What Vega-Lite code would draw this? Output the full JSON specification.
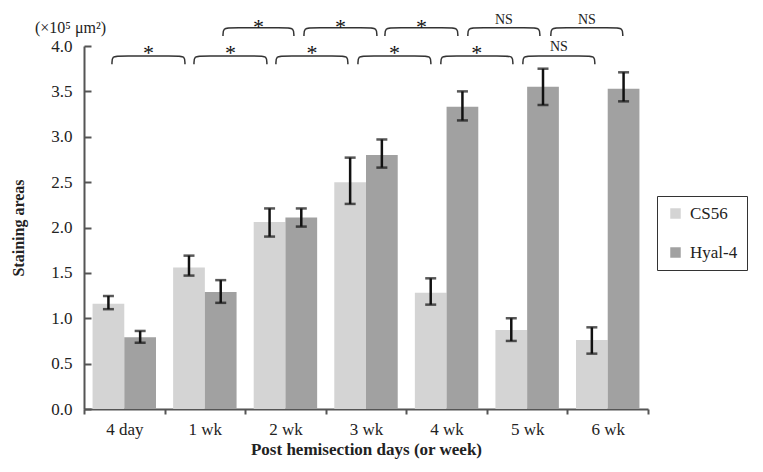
{
  "$schema": "https://vega.github.io/schema/vega-lite/v6.json",
  "width": 564,
  "height": 363,
  "autosize": "none",
  "padding": {"left": 84, "top": 46, "right": 115, "bottom": 63},
  "background": "white",
  "title": {"text": "(×10⁵ μm²)", "anchor": "start", "frame": "group", "dx": -49, "offset": -23, "fontSize": 16, "fontWeight": "normal", "font": "Liberation Serif", "color": "#222"},
  "config": {"view": {"stroke": null}, "font": "Liberation Serif"},
  "datasets": {
    "bars": [
      {"time": "4 day", "group": "CS56", "value": 1.16, "lo": 1.10, "hi": 1.245},
      {"time": "4 day", "group": "Hyal-4", "value": 0.79, "lo": 0.73, "hi": 0.86},
      {"time": "1 wk", "group": "CS56", "value": 1.56, "lo": 1.47, "hi": 1.69},
      {"time": "1 wk", "group": "Hyal-4", "value": 1.29, "lo": 1.17, "hi": 1.42},
      {"time": "2 wk", "group": "CS56", "value": 2.06, "lo": 1.90, "hi": 2.21},
      {"time": "2 wk", "group": "Hyal-4", "value": 2.11, "lo": 2.01, "hi": 2.21},
      {"time": "3 wk", "group": "CS56", "value": 2.50, "lo": 2.26, "hi": 2.77},
      {"time": "3 wk", "group": "Hyal-4", "value": 2.80, "lo": 2.66, "hi": 2.97},
      {"time": "4 wk", "group": "CS56", "value": 1.28, "lo": 1.15, "hi": 1.44},
      {"time": "4 wk", "group": "Hyal-4", "value": 3.33, "lo": 3.18, "hi": 3.50},
      {"time": "5 wk", "group": "CS56", "value": 0.87, "lo": 0.75, "hi": 1.00},
      {"time": "5 wk", "group": "Hyal-4", "value": 3.55, "lo": 3.35, "hi": 3.75},
      {"time": "6 wk", "group": "CS56", "value": 0.76, "lo": 0.61, "hi": 0.90},
      {"time": "6 wk", "group": "Hyal-4", "value": 3.53, "lo": 3.39, "hi": 3.71}
    ],
    "brackets": [
      {"id": "L0", "k": 0, "px": 0.347, "py": 3.80}, {"id": "L0", "k": 1, "px": 0.347, "py": 3.89}, {"id": "L0", "k": 2, "px": 0.447, "py": 3.89}, {"id": "L0", "k": 3, "px": 1.153, "py": 3.89}, {"id": "L0", "k": 4, "px": 1.253, "py": 3.89}, {"id": "L0", "k": 5, "px": 1.253, "py": 3.80},
      {"id": "L1", "k": 0, "px": 1.365, "py": 3.80}, {"id": "L1", "k": 1, "px": 1.365, "py": 3.89}, {"id": "L1", "k": 2, "px": 1.465, "py": 3.89}, {"id": "L1", "k": 3, "px": 2.170, "py": 3.89}, {"id": "L1", "k": 4, "px": 2.270, "py": 3.89}, {"id": "L1", "k": 5, "px": 2.270, "py": 3.80},
      {"id": "L2", "k": 0, "px": 2.382, "py": 3.80}, {"id": "L2", "k": 1, "px": 2.382, "py": 3.89}, {"id": "L2", "k": 2, "px": 2.482, "py": 3.89}, {"id": "L2", "k": 3, "px": 3.175, "py": 3.89}, {"id": "L2", "k": 4, "px": 3.275, "py": 3.89}, {"id": "L2", "k": 5, "px": 3.275, "py": 3.80},
      {"id": "L3", "k": 0, "px": 3.400, "py": 3.80}, {"id": "L3", "k": 1, "px": 3.400, "py": 3.89}, {"id": "L3", "k": 2, "px": 3.500, "py": 3.89}, {"id": "L3", "k": 3, "px": 4.205, "py": 3.89}, {"id": "L3", "k": 4, "px": 4.305, "py": 3.89}, {"id": "L3", "k": 5, "px": 4.305, "py": 3.80},
      {"id": "L4", "k": 0, "px": 4.429, "py": 3.80}, {"id": "L4", "k": 1, "px": 4.429, "py": 3.89}, {"id": "L4", "k": 2, "px": 4.529, "py": 3.89}, {"id": "L4", "k": 3, "px": 5.223, "py": 3.89}, {"id": "L4", "k": 4, "px": 5.323, "py": 3.89}, {"id": "L4", "k": 5, "px": 5.323, "py": 3.80},
      {"id": "L5", "k": 0, "px": 5.447, "py": 3.80}, {"id": "L5", "k": 1, "px": 5.447, "py": 3.89}, {"id": "L5", "k": 2, "px": 5.547, "py": 3.89}, {"id": "L5", "k": 3, "px": 6.240, "py": 3.89}, {"id": "L5", "k": 4, "px": 6.340, "py": 3.89}, {"id": "L5", "k": 5, "px": 6.340, "py": 3.80},
      {"id": "U1", "k": 0, "px": 1.725, "py": 4.11}, {"id": "U1", "k": 1, "px": 1.725, "py": 4.20}, {"id": "U1", "k": 2, "px": 1.825, "py": 4.20}, {"id": "U1", "k": 3, "px": 2.505, "py": 4.20}, {"id": "U1", "k": 4, "px": 2.605, "py": 4.20}, {"id": "U1", "k": 5, "px": 2.605, "py": 4.11},
      {"id": "U2", "k": 0, "px": 2.730, "py": 4.11}, {"id": "U2", "k": 1, "px": 2.730, "py": 4.20}, {"id": "U2", "k": 2, "px": 2.830, "py": 4.20}, {"id": "U2", "k": 3, "px": 3.535, "py": 4.20}, {"id": "U2", "k": 4, "px": 3.635, "py": 4.20}, {"id": "U2", "k": 5, "px": 3.635, "py": 4.11},
      {"id": "U3", "k": 0, "px": 3.735, "py": 4.11}, {"id": "U3", "k": 1, "px": 3.735, "py": 4.20}, {"id": "U3", "k": 2, "px": 3.835, "py": 4.20}, {"id": "U3", "k": 3, "px": 4.540, "py": 4.20}, {"id": "U3", "k": 4, "px": 4.640, "py": 4.20}, {"id": "U3", "k": 5, "px": 4.640, "py": 4.11},
      {"id": "U4", "k": 0, "px": 4.764, "py": 4.11}, {"id": "U4", "k": 1, "px": 4.764, "py": 4.20}, {"id": "U4", "k": 2, "px": 4.864, "py": 4.20}, {"id": "U4", "k": 3, "px": 5.558, "py": 4.20}, {"id": "U4", "k": 4, "px": 5.658, "py": 4.20}, {"id": "U4", "k": 5, "px": 5.658, "py": 4.11},
      {"id": "U5", "k": 0, "px": 5.794, "py": 4.11}, {"id": "U5", "k": 1, "px": 5.794, "py": 4.20}, {"id": "U5", "k": 2, "px": 5.894, "py": 4.20}, {"id": "U5", "k": 3, "px": 6.587, "py": 4.20}, {"id": "U5", "k": 4, "px": 6.687, "py": 4.20}, {"id": "U5", "k": 5, "px": 6.687, "py": 4.11}
    ],
    "labels": [
      {"px": 0.800, "py": 3.99, "t": "*"},
      {"px": 1.818, "py": 3.99, "t": "*"},
      {"px": 2.829, "py": 3.99, "t": "*"},
      {"px": 3.853, "py": 3.99, "t": "*"},
      {"px": 4.876, "py": 3.99, "t": "*"},
      {"px": 5.894, "py": 3.99, "t": "NS"},
      {"px": 2.165, "py": 4.275, "t": "*"},
      {"px": 3.183, "py": 4.275, "t": "*"},
      {"px": 4.188, "py": 4.275, "t": "*"},
      {"px": 5.211, "py": 4.285, "t": "NS"},
      {"px": 6.241, "py": 4.285, "t": "NS"}
    ]
  },
  "layer": [
    {
      "data": {"name": "bars"},
      "layer": [
        {
          "mark": {"type": "bar"},
          "encoding": {
            "x": {"field": "time", "type": "nominal", "sort": ["4 day", "1 wk", "2 wk", "3 wk", "4 wk", "5 wk", "6 wk"], "scale": {"paddingInner": 0, "paddingOuter": 0}, "title": "Post hemisection days (or week)",
              "axis": {"tickBand": "extent", "tickSize": 5, "labelPadding": 7, "labelAngle": 0, "labelFontSize": 17, "labelFont": "Liberation Serif", "labelColor": "#222", "titleFontSize": 17, "titleFont": "Liberation Serif", "titleFontWeight": "bold", "titleColor": "#222", "titlePadding": 4, "domainColor": "#555", "domainWidth": 2, "tickColor": "#555", "tickWidth": 2, "grid": false}},
            "xOffset": {"field": "group", "type": "nominal", "scale": {"paddingInner": 0, "paddingOuter": 0.27}},
            "y": {"field": "value", "type": "quantitative", "scale": {"domain": [0, 4], "nice": false}, "title": "Staining areas",
              "axis": {"values": [0, 0.5, 1, 1.5, 2, 2.5, 3, 3.5, 4], "format": ".1f", "tickSize": -7, "labelPadding": 19, "labelFontSize": 17, "labelFont": "Liberation Serif", "labelColor": "#222", "titleFontSize": 16, "titleFont": "Liberation Serif", "titleFontWeight": "bold", "titleColor": "#222", "titlePadding": 24, "domainColor": "#555", "domainWidth": 2, "tickColor": "#555", "tickWidth": 2, "grid": false}},
            "color": {"field": "group", "type": "nominal", "scale": {"domain": ["CS56", "Hyal-4"], "range": ["#d4d4d4", "#a1a1a1"]},
              "legend": {"title": null, "orient": "none", "legendX": 573, "legendY": 150, "strokeColor": "#333", "padding": 9, "symbolType": "square", "symbolSize": 110, "symbolStrokeWidth": 0, "symbolOffset": 1, "labelOffset": 6, "labelFontSize": 17, "labelFont": "Liberation Serif", "labelColor": "#222", "rowPadding": 21, "labelExpr": "datum.label + '\u00a0\u00a0\u00a0\u00a0'"}}
          }
        },
        {
          "mark": {"type": "rule", "strokeWidth": 2.5, "color": "#111"},
          "encoding": {
            "x": {"field": "time", "type": "nominal", "sort": ["4 day", "1 wk", "2 wk", "3 wk", "4 wk", "5 wk", "6 wk"]},
            "xOffset": {"field": "group", "type": "nominal"},
            "y": {"field": "lo", "type": "quantitative", "title": "Staining areas"},
            "y2": {"field": "hi"}
          }
        },
        {
          "mark": {"type": "tick", "thickness": 2.5, "size": 11, "color": "#111"},
          "encoding": {
            "x": {"field": "time", "type": "nominal", "sort": ["4 day", "1 wk", "2 wk", "3 wk", "4 wk", "5 wk", "6 wk"]},
            "xOffset": {"field": "group", "type": "nominal"},
            "y": {"field": "lo", "type": "quantitative", "title": "Staining areas"}
          }
        },
        {
          "mark": {"type": "tick", "thickness": 2.5, "size": 11, "color": "#111"},
          "encoding": {
            "x": {"field": "time", "type": "nominal", "sort": ["4 day", "1 wk", "2 wk", "3 wk", "4 wk", "5 wk", "6 wk"]},
            "xOffset": {"field": "group", "type": "nominal"},
            "y": {"field": "hi", "type": "quantitative", "title": "Staining areas"}
          }
        }
      ]
    },
    {
      "layer": [
        {
          "data": {"name": "brackets"},
          "mark": {"type": "line", "interpolate": "basis", "color": "#333", "strokeWidth": 1.5},
          "encoding": {
            "x": {"field": "px", "type": "quantitative", "scale": {"domain": [0, 7], "nice": false, "zero": false}, "axis": null},
            "y": {"field": "py", "type": "quantitative", "title": "Staining areas"},
            "detail": {"field": "id"},
            "order": {"field": "k"}
          }
        },
        {
          "data": {"name": "labels"},
          "transform": [{"filter": "datum.t == '*'"}],
          "mark": {"type": "text", "fontSize": 22, "dy": 6, "baseline": "middle", "font": "Liberation Serif", "color": "#111"},
          "encoding": {
            "x": {"field": "px", "type": "quantitative", "scale": {"domain": [0, 7], "nice": false, "zero": false}, "axis": null},
            "y": {"field": "py", "type": "quantitative", "title": "Staining areas"},
            "text": {"field": "t"}
          }
        },
        {
          "data": {"name": "labels"},
          "transform": [{"filter": "datum.t == 'NS'"}],
          "mark": {"type": "text", "fontSize": 14, "baseline": "middle", "font": "Liberation Serif", "color": "#222"},
          "encoding": {
            "x": {"field": "px", "type": "quantitative", "scale": {"domain": [0, 7], "nice": false, "zero": false}, "axis": null},
            "y": {"field": "py", "type": "quantitative", "title": "Staining areas"},
            "text": {"field": "t"}
          }
        }
      ]
    }
  ],
  "resolve": {"scale": {"x": "independent"}}
}
